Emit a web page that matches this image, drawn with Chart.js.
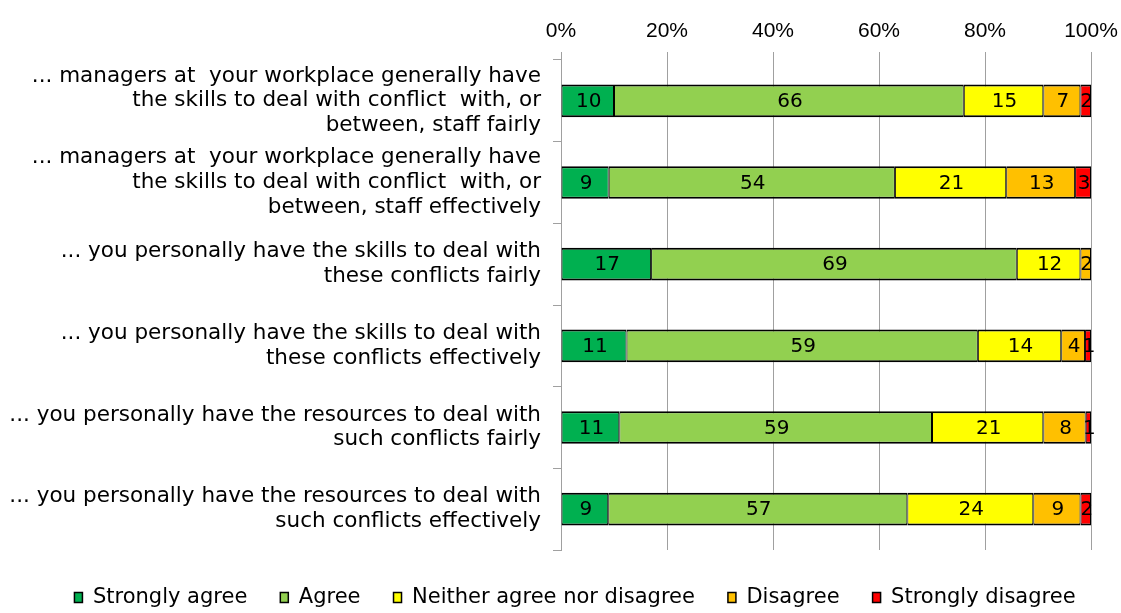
<!DOCTYPE html>
<html>
<head>
<meta charset="utf-8">
<script src="https://cdn.jsdelivr.net/npm/chart.js@4.4.1/dist/chart.umd.min.js"></script>
<style>
  body { margin: 0; background: #fff; }
</style>
</head>
<body>
<canvas id="conflictChart" width="1121" height="613"></canvas>
<script>
var categorias = [
    ["... managers at  your workplace generally have", "the skills to deal with conflict  with, or", "between, staff fairly"],
    ["... managers at  your workplace generally have", "the skills to deal with conflict  with, or", "between, staff effectively"],
    ["... you personally have the skills to deal with", "these conflicts fairly"],
    ["... you personally have the skills to deal with", "these conflicts effectively"],
    ["... you personally have the resources to deal with", "such conflicts fairly"],
    ["... you personally have the resources to deal with", "such conflicts effectively"]
];
var stronglyAgree    = [10,  9, 17, 11, 11,  9];
var agree            = [66, 54, 69, 59, 59, 57];
var neither          = [15, 21, 12, 14, 21, 24];
var disagree         = [ 7, 13,  2,  4,  8,  9];
var stronglyDisagree = [ 2,  3,  0,  1,  1,  2];
var tickLabels = ["0%", "20%", "40%", "60%", "80%", "100%"];

var series = [
    { label: 'Strongly agree', valores: stronglyAgree, color: '#00B050' },
    { label: 'Agree', valores: agree, color: '#92D050' },
    { label: 'Neither agree nor disagree', valores: neither, color: '#FFFF00' },
    { label: 'Disagree', valores: disagree, color: '#FFC000' },
    { label: 'Strongly disagree', valores: stronglyDisagree, color: '#FF0000' }
];

// 100% stacked: every row is scaled to its own total
var totales = categorias.map(function(c, i){
    var t = 0;
    series.forEach(function(s){ t += s.valores[i]; });
    return t;
});

var datasets = [];
series.forEach(function(s){
    datasets.push({
        label: s.label,
        data: s.valores.map(function(v, i){ return v / totales[i] * 100; }),
        raw: s.valores,
        backgroundColor: s.color,
        borderColor: '#000',
        borderWidth: { top: 2, bottom: 2, left: 1, right: 1 },
        borderSkipped: false,
        barPercentage: 0.4,
        categoryPercentage: 1
    });
});

var barLabels = {
    id: 'barLabels',
    afterDatasetsDraw: function(chart){
        var ctx = chart.ctx;
        ctx.save();
        ctx.font = '20px "DejaVu Sans"';
        ctx.fillStyle = '#000';
        ctx.textAlign = 'center';
        ctx.textBaseline = 'middle';
        chart.data.datasets.forEach(function(ds, d){
            chart.getDatasetMeta(d).data.forEach(function(bar, i){
                var v = ds.raw[i];
                if (!v) return;
                ctx.fillText(String(v), (bar.x + bar.base) / 2 + 1, bar.y + 1);
            });
        });
        ctx.restore();
    }
};

Chart.defaults.color = '#000';
Chart.defaults.font.family = '"DejaVu Sans"';

var conflictChart = new Chart("conflictChart", {
    type: 'bar',
    data: {
        labels: categorias,
        datasets: datasets
    },
    options: {
        indexAxis: 'y',
        responsive: false,
        animation: false,
        // negative right padding only shifts the legend; plot edge comes from the x scale
        layout: { padding: { top: 0, right: -29, bottom: -5, left: 0 } },
        scales: {
            x: {
                position: 'top',
                stacked: true,
                min: 0,
                max: 100,
                afterFit: function(scale){
                    scale.height = 60;
                    scale.paddingLeft = 0;
                    scale.paddingRight = 30;
                },
                ticks: {
                    stepSize: 20,
                    padding: 8,
                    font: { family: '"Liberation Sans"', size: 21 },
                    callback: function(v, idx){ return tickLabels[idx]; }
                },
                grid: { color: '#a0a0a0', lineWidth: 1, tickLength: 8 },
                border: { display: false }
            },
            y: {
                stacked: true,
                afterFit: function(scale){ scale.width = 561; },
                ticks: {
                    padding: 12,
                    font: { size: 21.5, lineHeight: 1.15 }
                },
                grid: { drawOnChartArea: false, color: '#a0a0a0', tickLength: 8 },
                border: { color: '#a0a0a0' }
            }
        },
        plugins: {
            tooltip: { enabled: false },
            legend: {
                position: 'bottom',
                title: { display: true, text: '', font: { size: 4, lineHeight: 1 }, padding: 0 },
                labels: {
                    boxWidth: 8,
                    boxHeight: 10,
                    padding: 33,
                    font: { size: 21 }
                }
            }
        }
    },
    plugins: [barLabels]
});
</script>
</body>
</html>
